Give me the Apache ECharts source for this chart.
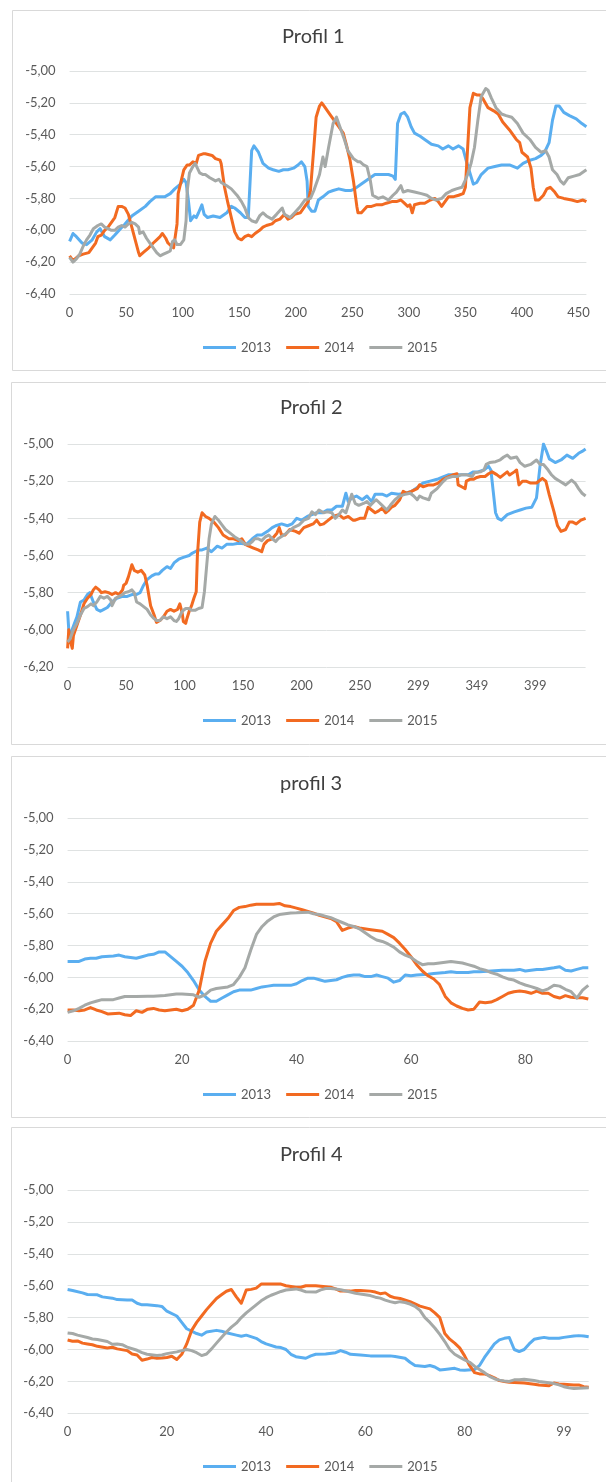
<!DOCTYPE html>
<html>
<head>
<meta charset="utf-8">
<script src="https://cdn.jsdelivr.net/npm/echarts@6/dist/echarts.min.js"></script>
<style>
  html, body { margin: 0; padding: 0; background: #ffffff; }
  #chart { width: 606px; height: 1482px; }
</style>
</head>
<body>
<div id="chart"></div>
<script>
// Series names shared by all four profiles
const seriesNames = ['2013', '2014', '2015'];

// Tick labels of the horizontal axes
const p1Ticks = ['0', '50', '100', '150', '200', '250', '300', '350', '400', '450'];
const p2Ticks = ['0', '50', '100', '150', '200', '250', '299', '349', '399'];
const p3Ticks = ['0', '20', '40', '60', '80'];
const p4Ticks = ['0', '20', '40', '60', '80', '99'];

// Profil 1 — [position, level]
const p1_2013 = [[0,-6.07],[3,-6.02],[6,-6.04],[11,-6.08],[15,-6.09],[20,-6.06],[24,-6.01],[27,-5.99],[31,-6.04],[36,-6.06],[40,-6.03],[45,-5.99],[49,-5.96],[55,-5.91],[61,-5.88],[67,-5.85],[71,-5.82],[76,-5.79],[80,-5.79],[84,-5.79],[89,-5.77],[93,-5.74],[98,-5.71],[101,-5.68],[103,-5.70],[105,-5.81],[107,-5.94],[110,-5.91],[112,-5.92],[114,-5.89],[117,-5.84],[119,-5.90],[122,-5.92],[127,-5.91],[133,-5.92],[139,-5.89],[143,-5.85],[146,-5.86],[151,-5.89],[155,-5.92],[158,-5.92],[161,-5.50],[163,-5.47],[167,-5.51],[171,-5.58],[176,-5.61],[180,-5.62],[185,-5.63],[189,-5.62],[193,-5.62],[198,-5.61],[202,-5.59],[205,-5.57],[208,-5.60],[210,-5.69],[211,-5.85],[214,-5.88],[217,-5.88],[220,-5.81],[224,-5.79],[229,-5.76],[233,-5.75],[238,-5.74],[244,-5.75],[249,-5.75],[252,-5.74],[258,-5.71],[264,-5.68],[270,-5.65],[276,-5.65],[282,-5.65],[286,-5.66],[288,-5.68],[290,-5.33],[293,-5.27],[296,-5.26],[299,-5.29],[302,-5.35],[305,-5.39],[310,-5.41],[314,-5.43],[320,-5.46],[326,-5.47],[330,-5.49],[335,-5.47],[339,-5.49],[344,-5.47],[348,-5.49],[351,-5.57],[354,-5.64],[357,-5.71],[360,-5.70],[364,-5.65],[370,-5.61],[376,-5.60],[382,-5.59],[389,-5.59],[396,-5.61],[401,-5.58],[407,-5.56],[412,-5.55],[417,-5.53],[420,-5.51],[424,-5.45],[427,-5.31],[430,-5.22],[433,-5.22],[437,-5.26],[442,-5.28],[448,-5.30],[453,-5.33],[457,-5.35]];
const p1_2014 = [[0,-6.16],[3,-6.19],[8,-6.16],[12,-6.15],[17,-6.14],[20,-6.11],[23,-6.08],[25,-6.04],[28,-6.03],[31,-6.00],[34,-5.98],[37,-5.95],[40,-5.92],[43,-5.85],[46,-5.85],[49,-5.86],[50,-5.85],[52,-5.90],[55,-5.98],[58,-6.06],[61,-6.14],[62,-6.16],[65,-6.14],[70,-6.11],[74,-6.08],[77,-6.06],[80,-6.04],[82,-6.02],[85,-6.05],[87,-6.08],[90,-6.10],[92,-6.11],[95,-5.96],[96,-5.77],[98,-5.71],[101,-5.62],[104,-5.59],[106,-5.59],[109,-5.57],[112,-5.58],[114,-5.53],[118,-5.52],[120,-5.52],[126,-5.53],[129,-5.55],[133,-5.56],[134,-5.58],[137,-5.73],[140,-5.83],[143,-5.92],[146,-6.01],[149,-6.05],[152,-6.06],[155,-6.04],[158,-6.03],[161,-6.04],[164,-6.02],[168,-6.00],[171,-5.98],[174,-5.97],[179,-5.96],[182,-5.94],[186,-5.93],[190,-5.90],[193,-5.93],[196,-5.92],[199,-5.90],[204,-5.89],[208,-5.85],[211,-5.82],[213,-5.75],[216,-5.48],[218,-5.29],[221,-5.22],[223,-5.20],[226,-5.23],[230,-5.27],[233,-5.30],[238,-5.35],[242,-5.39],[245,-5.47],[248,-5.56],[251,-5.69],[254,-5.85],[255,-5.89],[258,-5.89],[263,-5.85],[267,-5.85],[271,-5.84],[276,-5.84],[280,-5.83],[285,-5.82],[289,-5.82],[293,-5.81],[296,-5.83],[299,-5.85],[301,-5.84],[303,-5.89],[305,-5.84],[310,-5.83],[314,-5.83],[319,-5.81],[323,-5.80],[326,-5.82],[329,-5.85],[332,-5.82],[335,-5.79],[339,-5.79],[344,-5.78],[348,-5.77],[350,-5.73],[352,-5.48],[354,-5.23],[357,-5.14],[360,-5.15],[363,-5.15],[366,-5.18],[370,-5.23],[375,-5.25],[379,-5.27],[383,-5.32],[389,-5.37],[395,-5.43],[398,-5.45],[400,-5.51],[405,-5.54],[408,-5.61],[410,-5.73],[412,-5.81],[415,-5.81],[419,-5.78],[422,-5.74],[425,-5.73],[429,-5.76],[432,-5.79],[437,-5.80],[444,-5.81],[449,-5.82],[454,-5.81],[457,-5.82]];
const p1_2015 = [[0,-6.17],[3,-6.20],[6,-6.18],[9,-6.15],[12,-6.10],[15,-6.06],[18,-6.03],[21,-5.99],[25,-5.97],[28,-5.96],[31,-5.98],[34,-5.99],[37,-6.00],[40,-6.00],[43,-5.98],[46,-5.97],[49,-5.98],[52,-5.96],[55,-5.95],[58,-5.96],[61,-5.98],[62,-6.02],[65,-6.01],[68,-6.05],[71,-6.08],[74,-6.11],[77,-6.14],[80,-6.16],[83,-6.15],[86,-6.14],[89,-6.13],[91,-6.07],[93,-6.06],[95,-6.09],[98,-6.09],[101,-6.06],[103,-5.94],[104,-5.75],[106,-5.64],[109,-5.60],[111,-5.58],[113,-5.61],[115,-5.64],[118,-5.65],[120,-5.65],[124,-5.67],[129,-5.69],[132,-5.68],[134,-5.70],[139,-5.72],[143,-5.74],[148,-5.78],[152,-5.82],[155,-5.86],[158,-5.92],[161,-5.94],[165,-5.95],[168,-5.91],[171,-5.89],[174,-5.91],[179,-5.93],[183,-5.90],[188,-5.86],[190,-5.90],[195,-5.92],[199,-5.89],[204,-5.85],[208,-5.81],[213,-5.80],[216,-5.75],[218,-5.71],[221,-5.65],[224,-5.54],[226,-5.60],[229,-5.48],[233,-5.33],[236,-5.29],[239,-5.35],[243,-5.43],[246,-5.50],[251,-5.55],[255,-5.57],[257,-5.57],[260,-5.59],[263,-5.60],[266,-5.69],[268,-5.78],[273,-5.80],[277,-5.79],[282,-5.81],[286,-5.78],[289,-5.76],[293,-5.72],[295,-5.76],[299,-5.75],[305,-5.76],[311,-5.77],[316,-5.78],[320,-5.80],[324,-5.81],[329,-5.80],[333,-5.77],[338,-5.75],[342,-5.74],[347,-5.73],[349,-5.70],[352,-5.65],[355,-5.58],[358,-5.48],[361,-5.31],[364,-5.16],[368,-5.11],[370,-5.12],[373,-5.17],[377,-5.23],[382,-5.27],[386,-5.28],[391,-5.29],[396,-5.33],[401,-5.39],[407,-5.43],[412,-5.48],[417,-5.51],[421,-5.50],[424,-5.54],[427,-5.62],[431,-5.65],[434,-5.69],[437,-5.71],[441,-5.67],[446,-5.66],[451,-5.65],[457,-5.62]];

// Profil 2
const p2_2013 = [[0,-5.90],[1,-6.00],[2,-6.03],[5,-5.98],[8,-5.93],[11,-5.85],[14,-5.84],[17,-5.81],[19,-5.80],[20,-5.80],[22,-5.85],[25,-5.89],[28,-5.90],[31,-5.89],[34,-5.88],[38,-5.85],[42,-5.83],[47,-5.82],[51,-5.82],[55,-5.81],[59,-5.81],[62,-5.80],[65,-5.76],[68,-5.73],[72,-5.71],[75,-5.70],[78,-5.70],[81,-5.68],[85,-5.66],[88,-5.67],[91,-5.64],[95,-5.62],[99,-5.61],[104,-5.60],[106,-5.59],[109,-5.58],[112,-5.57],[115,-5.57],[119,-5.56],[123,-5.58],[128,-5.55],[132,-5.56],[136,-5.54],[141,-5.54],[145,-5.535],[149,-5.535],[153,-5.54],[158,-5.51],[162,-5.49],[166,-5.49],[171,-5.47],[175,-5.45],[178,-5.44],[183,-5.43],[188,-5.44],[192,-5.43],[196,-5.40],[200,-5.41],[205,-5.39],[209,-5.38],[213,-5.37],[218,-5.37],[222,-5.355],[226,-5.355],[230,-5.335],[235,-5.335],[238,-5.265],[240,-5.31],[243,-5.29],[247,-5.28],[252,-5.30],[256,-5.28],[260,-5.31],[263,-5.27],[269,-5.27],[273,-5.28],[277,-5.265],[283,-5.27],[289,-5.265],[294,-5.255],[300,-5.23],[304,-5.21],[310,-5.20],[316,-5.19],[320,-5.18],[326,-5.165],[331,-5.165],[337,-5.165],[343,-5.165],[347,-5.15],[351,-5.15],[356,-5.14],[360,-5.12],[362,-5.14],[364,-5.255],[366,-5.37],[368,-5.40],[371,-5.41],[376,-5.38],[382,-5.365],[387,-5.355],[392,-5.345],[397,-5.34],[401,-5.29],[404,-5.12],[407,-5.00],[409,-5.03],[412,-5.08],[417,-5.10],[422,-5.086],[427,-5.06],[432,-5.077],[437,-5.05],[440,-5.04],[443,-5.027]];
const p2_2014 = [[0,-6.10],[1,-6.00],[2,-6.05],[4,-6.10],[5,-6.03],[8,-5.975],[11,-5.92],[14,-5.86],[17,-5.83],[20,-5.81],[22,-5.785],[24,-5.77],[27,-5.785],[29,-5.80],[32,-5.795],[35,-5.80],[38,-5.81],[41,-5.80],[44,-5.81],[47,-5.785],[48,-5.76],[50,-5.75],[52,-5.715],[55,-5.65],[57,-5.68],[60,-5.69],[63,-5.68],[66,-5.705],[68,-5.76],[71,-5.87],[74,-5.92],[76,-5.96],[79,-5.95],[82,-5.93],[85,-5.90],[88,-5.89],[91,-5.90],[94,-5.89],[96,-5.86],[98,-5.91],[99,-5.955],[101,-5.965],[102,-5.94],[104,-5.90],[106,-5.87],[108,-5.83],[110,-5.795],[111,-5.60],[113,-5.42],[115,-5.37],[118,-5.39],[121,-5.40],[125,-5.42],[129,-5.45],[133,-5.49],[138,-5.51],[142,-5.51],[146,-5.52],[149,-5.51],[150,-5.50],[152,-5.54],[155,-5.55],[159,-5.56],[163,-5.57],[166,-5.58],[168,-5.54],[171,-5.52],[175,-5.51],[179,-5.48],[181,-5.45],[183,-5.49],[186,-5.49],[190,-5.46],[195,-5.47],[198,-5.48],[202,-5.45],[206,-5.44],[210,-5.43],[213,-5.41],[216,-5.435],[219,-5.43],[223,-5.41],[227,-5.39],[232,-5.38],[236,-5.40],[240,-5.39],[244,-5.41],[246,-5.41],[250,-5.40],[254,-5.40],[257,-5.34],[260,-5.355],[263,-5.37],[266,-5.36],[269,-5.345],[272,-5.37],[274,-5.36],[277,-5.34],[280,-5.33],[284,-5.30],[287,-5.255],[290,-5.265],[294,-5.255],[299,-5.24],[301,-5.22],[304,-5.23],[309,-5.22],[313,-5.22],[317,-5.21],[321,-5.19],[326,-5.175],[330,-5.165],[333,-5.16],[334,-5.22],[337,-5.23],[340,-5.24],[341,-5.20],[344,-5.19],[347,-5.19],[350,-5.18],[353,-5.175],[357,-5.175],[360,-5.16],[363,-5.15],[367,-5.165],[370,-5.18],[373,-5.165],[376,-5.15],[378,-5.167],[382,-5.15],[384,-5.14],[386,-5.22],[389,-5.20],[392,-5.20],[396,-5.21],[401,-5.21],[406,-5.185],[409,-5.20],[412,-5.275],[416,-5.365],[419,-5.44],[422,-5.47],[426,-5.46],[429,-5.42],[432,-5.42],[435,-5.43],[439,-5.41],[443,-5.40]];
const p2_2015 = [[0,-6.065],[2,-6.05],[5,-6.00],[8,-5.965],[11,-5.92],[14,-5.885],[17,-5.875],[20,-5.86],[22,-5.87],[25,-5.85],[28,-5.82],[31,-5.83],[34,-5.82],[37,-5.84],[38,-5.87],[41,-5.83],[44,-5.82],[47,-5.81],[49,-5.80],[52,-5.795],[55,-5.785],[57,-5.80],[59,-5.85],[62,-5.86],[65,-5.875],[68,-5.89],[71,-5.92],[74,-5.94],[76,-5.95],[79,-5.95],[82,-5.93],[85,-5.94],[88,-5.93],[91,-5.95],[93,-5.955],[95,-5.94],[98,-5.90],[101,-5.885],[104,-5.885],[106,-5.895],[109,-5.895],[112,-5.885],[115,-5.88],[117,-5.795],[119,-5.65],[121,-5.51],[123,-5.43],[126,-5.39],[129,-5.41],[132,-5.435],[135,-5.46],[139,-5.48],[143,-5.50],[148,-5.52],[152,-5.54],[155,-5.54],[158,-5.525],[160,-5.51],[163,-5.51],[166,-5.52],[169,-5.50],[172,-5.49],[175,-5.51],[178,-5.525],[180,-5.51],[185,-5.49],[189,-5.47],[193,-5.45],[198,-5.435],[202,-5.41],[206,-5.40],[209,-5.365],[212,-5.38],[215,-5.355],[219,-5.37],[222,-5.365],[226,-5.37],[229,-5.40],[232,-5.38],[235,-5.355],[238,-5.37],[240,-5.33],[243,-5.27],[246,-5.32],[249,-5.33],[253,-5.32],[256,-5.31],[259,-5.33],[262,-5.31],[264,-5.30],[269,-5.33],[273,-5.355],[276,-5.33],[280,-5.30],[284,-5.28],[289,-5.27],[293,-5.265],[296,-5.28],[299,-5.30],[301,-5.28],[304,-5.29],[309,-5.30],[311,-5.265],[316,-5.24],[320,-5.21],[324,-5.185],[329,-5.175],[333,-5.175],[337,-5.165],[341,-5.165],[346,-5.175],[348,-5.155],[353,-5.15],[356,-5.14],[358,-5.11],[361,-5.10],[366,-5.095],[370,-5.085],[373,-5.07],[376,-5.06],[379,-5.077],[384,-5.07],[387,-5.10],[391,-5.12],[396,-5.11],[401,-5.086],[404,-5.11],[407,-5.11],[411,-5.14],[414,-5.167],[417,-5.185],[421,-5.20],[426,-5.22],[431,-5.194],[434,-5.21],[437,-5.24],[440,-5.265],[443,-5.28]];

// profil 3
const p3_2013 = [[0,-5.90],[1,-5.90],[2,-5.90],[3,-5.885],[4,-5.88],[5,-5.88],[6,-5.87],[8,-5.865],[9,-5.86],[10,-5.87],[11,-5.875],[12,-5.88],[13,-5.87],[14,-5.86],[15,-5.855],[16,-5.84],[17,-5.84],[18,-5.87],[19,-5.90],[20,-5.93],[21,-5.97],[22,-6.02],[23,-6.08],[24,-6.12],[25,-6.15],[26,-6.15],[27,-6.13],[28,-6.11],[29,-6.09],[30,-6.08],[32,-6.08],[33,-6.07],[34,-6.06],[35,-6.055],[36,-6.05],[38,-6.05],[39,-6.05],[40,-6.04],[41,-6.02],[42,-6.005],[43,-6.005],[44,-6.015],[45,-6.025],[46,-6.02],[47,-6.015],[48,-6.00],[49,-5.99],[50,-5.985],[51,-5.985],[52,-5.995],[53,-5.995],[54,-5.985],[55,-5.995],[56,-6.005],[57,-6.03],[58,-6.02],[59,-5.985],[60,-5.99],[61,-5.985],[63,-5.98],[64,-5.975],[66,-5.97],[67,-5.965],[68,-5.97],[70,-5.97],[71,-5.965],[72,-5.965],[74,-5.96],[76,-5.955],[78,-5.955],[79,-5.95],[80,-5.96],[82,-5.95],[83,-5.95],[85,-5.94],[86,-5.933],[87,-5.955],[88,-5.96],[89,-5.95],[90,-5.94],[91,-5.94]];
const p3_2014 = [[0,-6.205],[1,-6.205],[2,-6.21],[3,-6.205],[4,-6.19],[5,-6.205],[6,-6.215],[7,-6.23],[9,-6.225],[10,-6.235],[11,-6.24],[12,-6.21],[13,-6.22],[14,-6.20],[15,-6.195],[16,-6.205],[17,-6.21],[18,-6.205],[19,-6.20],[20,-6.21],[21,-6.20],[22,-6.175],[23,-6.08],[24,-5.90],[25,-5.785],[26,-5.71],[27,-5.67],[28,-5.63],[29,-5.58],[30,-5.56],[31,-5.555],[32,-5.546],[33,-5.54],[35,-5.54],[36,-5.54],[37,-5.535],[38,-5.55],[39,-5.555],[40,-5.565],[41,-5.575],[42,-5.585],[43,-5.596],[44,-5.61],[46,-5.63],[47,-5.65],[48,-5.705],[49,-5.69],[50,-5.68],[51,-5.69],[53,-5.70],[54,-5.705],[55,-5.71],[56,-5.73],[57,-5.75],[58,-5.785],[59,-5.825],[60,-5.87],[61,-5.92],[62,-5.96],[63,-5.99],[64,-6.01],[65,-6.045],[66,-6.12],[67,-6.16],[68,-6.18],[69,-6.195],[70,-6.205],[71,-6.20],[72,-6.155],[73,-6.16],[74,-6.155],[75,-6.14],[76,-6.12],[77,-6.10],[78,-6.09],[79,-6.086],[80,-6.09],[81,-6.10],[82,-6.086],[83,-6.10],[84,-6.10],[85,-6.12],[86,-6.13],[87,-6.115],[88,-6.125],[89,-6.128],[90,-6.128],[91,-6.136]];
const p3_2015 = [[0,-6.22],[1,-6.21],[2,-6.195],[3,-6.175],[4,-6.16],[5,-6.15],[6,-6.14],[8,-6.14],[9,-6.13],[10,-6.12],[12,-6.12],[14,-6.118],[15,-6.118],[17,-6.114],[19,-6.105],[20,-6.105],[22,-6.11],[23,-6.125],[24,-6.11],[25,-6.08],[26,-6.07],[28,-6.06],[29,-6.045],[30,-6.00],[31,-5.94],[32,-5.83],[33,-5.73],[34,-5.68],[35,-5.645],[36,-5.62],[37,-5.605],[38,-5.60],[39,-5.595],[40,-5.594],[42,-5.59],[43,-5.60],[44,-5.605],[45,-5.615],[46,-5.625],[47,-5.64],[48,-5.655],[49,-5.67],[50,-5.68],[51,-5.695],[52,-5.72],[53,-5.745],[54,-5.765],[55,-5.774],[56,-5.79],[57,-5.81],[58,-5.84],[59,-5.86],[60,-5.875],[61,-5.90],[62,-5.92],[63,-5.915],[64,-5.915],[65,-5.91],[66,-5.905],[67,-5.90],[68,-5.905],[69,-5.91],[70,-5.92],[71,-5.93],[72,-5.945],[73,-5.955],[74,-5.97],[75,-5.98],[76,-5.997],[77,-6.01],[78,-6.017],[79,-6.035],[80,-6.048],[81,-6.058],[82,-6.07],[83,-6.085],[84,-6.072],[85,-6.05],[86,-6.055],[87,-6.075],[88,-6.09],[89,-6.13],[90,-6.08],[91,-6.05]];

// Profil 4
const p4_2013 = [[0,-5.624],[1,-5.63],[3,-5.645],[4,-5.655],[6,-5.657],[7,-5.67],[9,-5.678],[10,-5.687],[12,-5.689],[13,-5.69],[14,-5.71],[15,-5.72],[16,-5.72],[18,-5.725],[19,-5.73],[20,-5.76],[22,-5.79],[23,-5.83],[24,-5.87],[26,-5.90],[27,-5.91],[28,-5.89],[30,-5.88],[31,-5.885],[32,-5.895],[34,-5.91],[35,-5.917],[36,-5.91],[38,-5.93],[39,-5.95],[40,-5.965],[42,-5.984],[43,-5.988],[44,-6.0],[45,-6.03],[46,-6.045],[48,-6.055],[49,-6.04],[50,-6.03],[52,-6.028],[54,-6.02],[55,-6.007],[56,-6.017],[57,-6.03],[59,-6.034],[61,-6.04],[63,-6.04],[65,-6.04],[66,-6.044],[68,-6.055],[69,-6.08],[70,-6.10],[72,-6.107],[73,-6.10],[74,-6.11],[75,-6.128],[76,-6.125],[78,-6.118],[79,-6.128],[80,-6.13],[82,-6.126],[83,-6.10],[84,-6.05],[85,-6.007],[86,-5.965],[87,-5.94],[88,-5.93],[89,-5.925],[90,-6.0],[91,-6.013],[92,-6.0],[93,-5.965],[94,-5.936],[95,-5.93],[96,-5.924],[97,-5.93],[99,-5.93],[100,-5.924],[102,-5.915],[103,-5.913],[104,-5.915],[105,-5.92]];
const p4_2014 = [[0,-5.94],[1,-5.948],[2,-5.946],[3,-5.96],[4,-5.965],[5,-5.97],[6,-5.98],[8,-5.99],[9,-5.986],[10,-5.996],[12,-6.007],[13,-6.028],[14,-6.034],[15,-6.067],[16,-6.06],[17,-6.05],[18,-6.055],[19,-6.053],[20,-6.05],[21,-6.042],[22,-6.063],[23,-6.03],[24,-5.965],[25,-5.88],[26,-5.83],[27,-5.79],[28,-5.75],[29,-5.715],[30,-5.68],[31,-5.657],[32,-5.635],[33,-5.624],[34,-5.67],[35,-5.71],[36,-5.627],[37,-5.623],[38,-5.615],[39,-5.59],[41,-5.59],[42,-5.59],[43,-5.59],[44,-5.60],[46,-5.61],[47,-5.61],[48,-5.60],[50,-5.60],[51,-5.603],[53,-5.61],[54,-5.62],[55,-5.634],[57,-5.634],[58,-5.63],[59,-5.63],[61,-5.634],[62,-5.64],[63,-5.65],[64,-5.645],[65,-5.666],[66,-5.676],[67,-5.68],[69,-5.70],[70,-5.714],[71,-5.728],[73,-5.745],[74,-5.77],[75,-5.80],[76,-5.90],[77,-5.935],[78,-5.96],[79,-5.99],[80,-6.04],[81,-6.10],[82,-6.145],[83,-6.153],[84,-6.153],[85,-6.164],[86,-6.178],[87,-6.195],[88,-6.20],[89,-6.205],[91,-6.208],[92,-6.21],[94,-6.218],[95,-6.222],[97,-6.227],[98,-6.21],[99,-6.216],[100,-6.218],[102,-6.222],[103,-6.222],[104,-6.233],[105,-6.237]];
const p4_2015 = [[0,-5.896],[1,-5.90],[2,-5.91],[4,-5.925],[5,-5.934],[6,-5.937],[8,-5.95],[9,-5.967],[10,-5.965],[11,-5.97],[12,-5.985],[14,-6.005],[15,-6.02],[16,-6.03],[18,-6.037],[19,-6.034],[20,-6.026],[22,-6.015],[23,-6.007],[24,-6.0],[25,-6.007],[26,-6.02],[27,-6.038],[28,-6.028],[29,-5.996],[30,-5.96],[31,-5.925],[32,-5.89],[33,-5.86],[34,-5.835],[35,-5.80],[36,-5.77],[37,-5.745],[38,-5.72],[39,-5.695],[40,-5.675],[41,-5.66],[42,-5.648],[43,-5.636],[44,-5.627],[46,-5.62],[47,-5.628],[48,-5.638],[50,-5.64],[51,-5.626],[52,-5.618],[53,-5.618],[54,-5.621],[55,-5.625],[57,-5.64],[58,-5.647],[59,-5.652],[61,-5.662],[62,-5.672],[63,-5.678],[64,-5.69],[65,-5.70],[66,-5.707],[67,-5.70],[68,-5.705],[69,-5.715],[70,-5.73],[71,-5.755],[72,-5.80],[73,-5.83],[74,-5.865],[75,-5.905],[76,-5.95],[77,-6.0],[78,-6.03],[79,-6.048],[80,-6.065],[81,-6.08],[82,-6.105],[83,-6.125],[84,-6.145],[85,-6.168],[86,-6.183],[87,-6.192],[88,-6.197],[89,-6.20],[90,-6.19],[91,-6.19],[92,-6.187],[94,-6.195],[95,-6.20],[97,-6.208],[98,-6.214],[99,-6.222],[100,-6.233],[101,-6.24],[102,-6.245],[104,-6.241],[105,-6.24]];

// Panel layout (pixels) and axis ranges
const panels = [
  { title: 'Profil 1', ticks: p1Ticks, step: 50, xMax: 457, yMin: -6.4,
    series: [p1_2013, p1_2014, p1_2015],
    frame: { x: 12.5, y: 10.5, h: 360 },
    grid: { left: 69.6, top: 71, width: 516.8, height: 223 },
    titleLeft: 277, titleTop: 22, legendTop: 336 },
  { title: 'Profil 2', ticks: p2Ticks, step: 50, xMax: 443, yMin: -6.2,
    series: [p2_2013, p2_2014, p2_2015],
    frame: { x: 11.5, y: 382.5, h: 362 },
    grid: { left: 67.6, top: 444, width: 518, height: 223 },
    titleLeft: 275, titleTop: 393, legendTop: 709 },
  { title: 'profil 3', ticks: p3Ticks, step: 20, xMax: 91, yMin: -6.4,
    series: [p3_2013, p3_2014, p3_2015],
    frame: { x: 11.5, y: 756.5, h: 361 },
    grid: { left: 67.6, top: 818.3, width: 520.7, height: 222.7 },
    titleLeft: 275, titleTop: 769, legendTop: 1083 },
  { title: 'Profil 4', ticks: p4Ticks, step: 20, xMax: 105, yMin: -6.4,
    series: [p4_2013, p4_2014, p4_2015],
    frame: { x: 11.5, y: 1127.5, h: 400 },
    grid: { left: 67.6, top: 1190, width: 521.1, height: 223.3 },
    titleLeft: 275, titleTop: 1140, legendTop: 1455 }
];

const lineColors = ['#5aaef0', '#f26a21', '#a5a9a7'];
const labelColor = '#595959';
const gridColor = '#dfe2e2';
const fontFamily = 'Lato, "Open Sans", sans-serif';

const option = {
  animation: false,
  backgroundColor: '#ffffff',
  title: [], legend: [], grid: [], xAxis: [], yAxis: [], series: [], graphic: []
};

panels.forEach((p, i) => {
  option.graphic.push({
    type: 'rect', silent: true, z: -10,
    shape: { x: p.frame.x, y: p.frame.y, width: 700, height: p.frame.h },
    style: { fill: '#ffffff', stroke: '#d9d9d9', lineWidth: 1 }
  });
  option.title.push({
    text: p.title, left: p.titleLeft, top: p.titleTop,
    textStyle: { fontFamily, fontSize: 20, fontWeight: 'normal', color: '#404040' }
  });
  option.legend.push({
    data: seriesNames, left: 198, top: p.legendTop,
    icon: 'rect', itemWidth: 33, itemHeight: 3, itemGap: 15,
    textStyle: { fontFamily, fontSize: 13, color: labelColor },
    selectedMode: false
  });
  option.grid.push(Object.assign({ outerBoundsMode: 'none', containLabel: false }, p.grid));
  option.xAxis.push({
    type: 'value', gridIndex: i, min: 0, max: p.xMax, interval: p.step,
    axisLine: { show: false }, axisTick: { show: false }, splitLine: { show: false },
    axisLabel: {
      margin: 12, fontFamily, fontSize: 13, color: labelColor,
      showMaxLabel: true, hideOverlap: false,
      formatter: v => {
        const k = Math.round(v / p.step);
        return Math.abs(v - k * p.step) < 1e-6 && k < p.ticks.length ? p.ticks[k] : '';
      }
    }
  });
  option.yAxis.push({
    type: 'value', gridIndex: i, min: p.yMin, max: -5.0, interval: 0.2,
    axisLine: { show: false }, axisTick: { show: false },
    splitLine: { show: true, lineStyle: { color: gridColor, width: 1 } },
    axisLabel: {
      margin: 14, fontFamily, fontSize: 13, color: labelColor,
      formatter: v => v.toFixed(2).replace('.', ',').replace('-0,00', '0,00')
    }
  });
  p.series.forEach((data, s) => {
    option.series.push({
      name: seriesNames[s], type: 'line', xAxisIndex: i, yAxisIndex: i,
      data, showSymbol: false, symbol: 'none',
      lineStyle: { color: lineColors[s], width: 3, join: 'round' },
      itemStyle: { color: lineColors[s] },
      emphasis: { disabled: true }
    });
  });
});

const chart = echarts.init(document.getElementById('chart'), null, { renderer: 'canvas' });
chart.setOption(option);
</script>
</body>
</html>
